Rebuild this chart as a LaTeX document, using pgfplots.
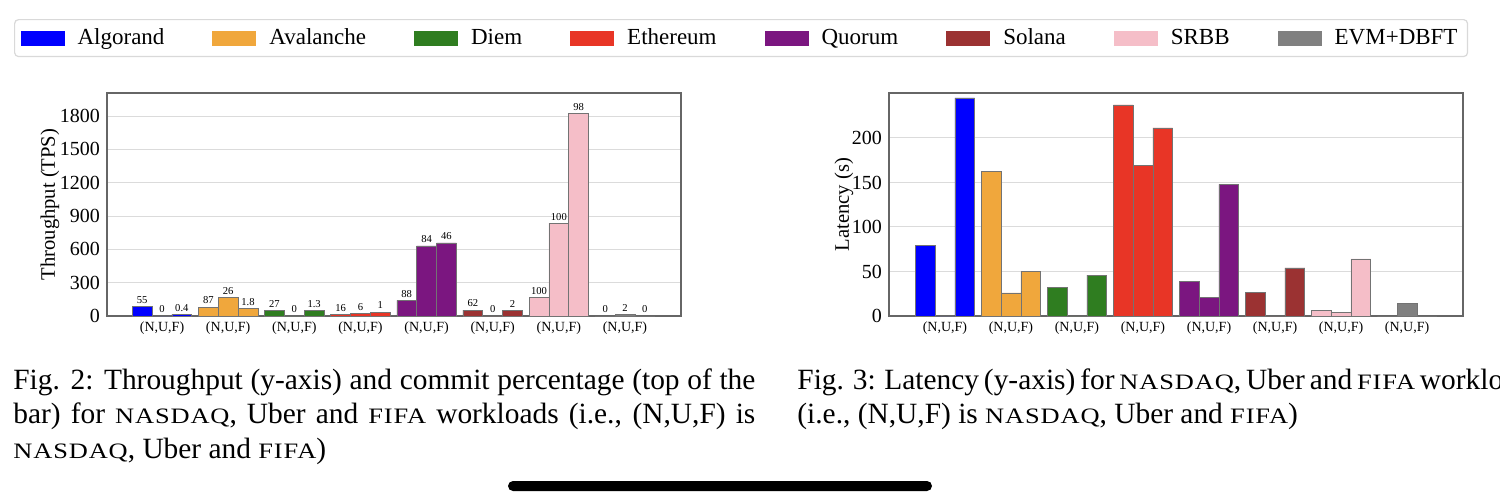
\documentclass[border=0pt]{standalone}
\usepackage{fontspec}
\setmainfont{Liberation Serif}
\newfontfamily\scfont[FakeStretch=1.2, LetterSpace=4]{Liberation Serif}
\usepackage{pgfplots}
\pgfplotsset{compat=1.18}

\definecolor{cAlg}{RGB}{0,0,255}
\definecolor{cAva}{RGB}{240,167,60}
\definecolor{cDie}{RGB}{47,125,32}
\definecolor{cEth}{RGB}{232,53,38}
\definecolor{cQuo}{RGB}{123,22,128}
\definecolor{cSol}{RGB}{155,50,50}
\definecolor{cSRB}{RGB}{245,190,200}
\definecolor{cEVM}{RGB}{128,128,128}

\newcommand{\fsc}[1]{{\scfont\fontsize{11pt}{17pt}\selectfont #1}}
\newcommand{\capfont}{\fontsize{14.7pt}{17pt}\selectfont}

\pgfplotsset{
  commonaxis/.style={
    scale only axis, width=287pt, height=111.5pt,
    ybar, bar width=0.3, bar shift=0pt,
    xtick={0,...,7},
    xticklabels={(N,U,F),(N,U,F),(N,U,F),(N,U,F),(N,U,F),(N,U,F),(N,U,F),(N,U,F)},
    x tick label style={font=\fontsize{7pt}{8pt}\selectfont, yshift=0.5pt},
    y tick label style={font=\fontsize{10pt}{11pt}\selectfont},
    /pgf/number format/assume math mode=true,
    /pgf/number format/1000 sep={},
    ymajorgrids, grid style={gray!28, line width=0.5pt},
    axis line style={gray!80!black, line width=0.6pt},
    major tick length=0pt,
    ymin=0,
    every axis plot/.append style={draw=black!55, line width=0.3pt},
    ylabel style={font=\fontsize{10.3pt}{12pt}\selectfont, anchor=center},
  },
}

\begin{document}
\begin{tikzpicture}
\clip (0,0) rectangle (750pt,-249.5pt);
\fill[white] (0,0) rectangle (750pt,-249.5pt);

% ---------- Fig. 2 : throughput ----------
\begin{axis}[commonaxis,
  at={(53.5pt,-158pt)}, anchor=south west,
  xmin=-0.832, xmax=7.847, ymax=2007,
  ytick={0,300,...,1800},
  ylabel={Throughput (TPS)},
  ylabel style={at={(axis description cs:-0.0993,0.5)}},
  nodes near coords, point meta=explicit symbolic,
  every node near coord/.append style={font=\fontsize{5.3pt}{6pt}\selectfont, text=black, inner sep=1.4pt},
  legend columns=8,
  legend style={at={(axis description cs:-0.162,1.3318)}, anchor=north west,
    draw=gray!30, rounded corners=2pt, line width=0.6pt,
    font=\fontsize{11.5pt}{13pt}\selectfont,
    inner xsep=3pt, inner ysep=2.5pt,
    /tikz/every even column/.append style={column sep=22pt},
    /tikz/every odd column/.append style={column sep=4.5pt}},
  legend image code/.code={\fill[#1, draw=none, sharp corners] (0pt,-3.75pt) rectangle (22pt,3.75pt);},
]
\addplot[fill=cAlg] coordinates {(-0.3,87) [55] (0,0) [0] (0.3,15) [0.4]};
\addplot[fill=cAva] coordinates {(0.7,81) [87] (1,168) [26] (1.3,66) [1.8]};
\addplot[fill=cDie] coordinates {(1.7,48) [27] (2,0) [0] (2.3,51) [1.3]};
\addplot[fill=cEth] coordinates {(2.7,12) [16] (3,21) [6] (3.3,36) [1]};
\addplot[fill=cQuo] coordinates {(3.7,141) [88] (4,631) [84] (4.3,658) [46]};
\addplot[fill=cSol] coordinates {(4.7,54) [62] (5,0) [0] (5.3,51) [2]};
\addplot[fill=cSRB] coordinates {(5.7,165) [100] (6,835) [100] (6.3,1821) [98]};
\addplot[fill=cEVM] coordinates {(6.7,0) [0] (7,15) [2] (7.3,0) [0]};
\legend{Algorand,Avalanche,Diem,Ethereum,Quorum,Solana,SRBB,EVM+DBFT}
\end{axis}

% ---------- Fig. 3 : latency ----------
\begin{axis}[commonaxis,
  at={(444.5pt,-158pt)}, anchor=south west,
  xmin=-0.847, xmax=7.847, ymax=250.5,
  ytick={0,50,...,200},
  ylabel={Latency (s)},
  ylabel style={at={(axis description cs:-0.0783,0.5)}},
]
\addplot[fill=cAlg] coordinates {(-0.3,79.2) (0,0) (0.3,245)};
\addplot[fill=cAva] coordinates {(0.7,162) (1,25.9) (1.3,49.9)};
\addplot[fill=cDie] coordinates {(1.7,32.3) (2,0) (2.3,45.8)};
\addplot[fill=cEth] coordinates {(2.7,237.1) (3,169.2) (3.3,211.2)};
\addplot[fill=cQuo] coordinates {(3.7,38.6) (4,21) (4.3,147.8)};
\addplot[fill=cSol] coordinates {(4.7,26.3) (5,0) (5.3,54)};
\addplot[fill=cSRB] coordinates {(5.7,6.4) (6,3.8) (6.3,64.2)};
\addplot[fill=cEVM] coordinates {(6.7,0) (7,13.9) (7.3,0)};
\end{axis}

% ---------- captions ----------
\node[anchor=base west, inner sep=0pt, font=\capfont] at (6.5pt,-194.5pt)
  {\makebox[371pt][s]{Fig. 2: Throughput (y-axis) and commit percentage (top of the}};
\node[anchor=base west, inner sep=0pt, font=\capfont] at (6.5pt,-211.75pt)
  {\makebox[371pt][s]{bar) for \fsc{NASDAQ}, Uber and \fsc{FIFA} workloads (i.e., (N,U,F) is}};
\node[anchor=base west, inner sep=0pt, font=\capfont] at (6.5pt,-229pt)
  {\fsc{NASDAQ}, Uber and \fsc{FIFA})};
\node[anchor=base west, inner sep=0pt, font=\capfont] at (398.5pt,-194.5pt)
  {\makebox[371pt][s]{Fig. 3: Latency (y-axis) for \fsc{NASDAQ}, Uber and \fsc{FIFA} workloads}};
\node[anchor=base west, inner sep=0pt, font=\capfont] at (398.5pt,-211.75pt)
  {(i.e., (N,U,F) is \fsc{NASDAQ}, Uber and \fsc{FIFA})};

% ---------- home indicator ----------
\fill[black, rounded corners=2.5pt] (254pt,-240.5pt) rectangle (466pt,-245.5pt);
\end{tikzpicture}
\end{document}
